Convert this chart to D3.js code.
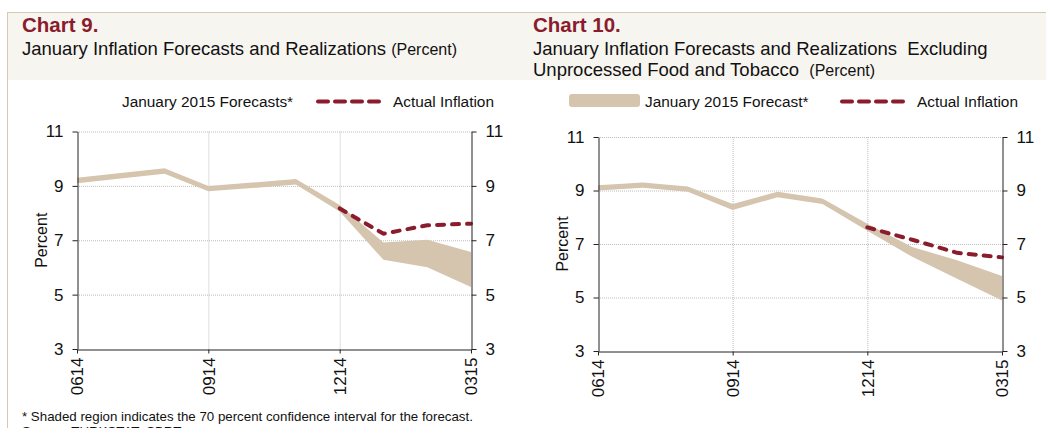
<!DOCTYPE html>
<html>
<head>
<meta charset="utf-8">
<script src="https://cdn.jsdelivr.net/npm/d3@7"></script>
<style>
    body { margin: 0; background: #fff; }
    svg { display: block; font-family: "Liberation Sans", Arial, sans-serif; }
    text { white-space: pre; }
</style>
</head>
<body>
<div id="chart"></div>
<script>
// Months on the x axis (mmyy)
const months = ['0614', '0714', '0814', '0914', '1014', '1114', '1214', '0115', '0215', '0315'];
const monthTicks = ['0614', '0914', '1214', '0315'];
const yTicks = [3, 5, 7, 9, 11];

// Chart 9: headline CPI, 70% band of January 2015 forecast
const lower9 = [9.1, 9.27, 9.45, 8.8, 8.92, 9.05, 8.06, 6.28, 6.01, 5.28];
const upper9 = [9.3, 9.47, 9.65, 9.0, 9.12, 9.25, 8.3, 6.92, 7.02, 6.57];
const actual9 = [null, null, null, null, null, null, 8.17, 7.24, 7.55, 7.61];

// Chart 10: excluding unprocessed food and tobacco
const lower10 = [9.0, 9.1, 8.95, 8.27, 8.75, 8.5, 7.5, 6.52, 5.7, 4.89];
const upper10 = [9.2, 9.3, 9.15, 8.5, 8.95, 8.7, 7.76, 6.89, 6.39, 5.8];
const actual10 = [null, null, null, null, null, null, 7.62, 7.16, 6.67, 6.5];

const bandColor = '#d5c5ae';
const lineColor = '#8b1c2d';
const titleColor = '#8b1c2d';

const svg = d3.select('#chart')
    .append('svg')
    .attr('width', 1046)
    .attr('height', 428);

// Header strip and frame lines
svg.append('rect')
    .attr('x', 8).attr('y', 13)
    .attr('width', 1038).attr('height', 67)
    .attr('fill', '#f7f5f0');
svg.append('line')
    .attr('x1', 7).attr('x2', 1046).attr('y1', 12.5).attr('y2', 12.5)
    .attr('stroke', '#d8c8b0');
svg.append('line')
    .attr('x1', 7.5).attr('x2', 7.5).attr('y1', 12).attr('y2', 428)
    .attr('stroke', '#d8c8b0');

function drawPanel(cfg) {
    const g = svg.append('g');

    // Titles
    g.append('text')
        .attr('x', cfg.titleX).attr('y', 32)
        .attr('fill', titleColor)
        .style('font-weight', 'bold')
        .style('font-size', '20.5px')
        .text(cfg.chartName);

    cfg.titleLines.forEach((line, i) => {
        const t = g.append('text')
            .attr('x', cfg.titleX).attr('y', 55 + i * 20.5)
            .attr('fill', '#111')
            .style('font-size', '18.5px');
        t.append('tspan').text(line.main);
        if (line.unit) {
            t.append('tspan').style('font-size', '16px').text(line.unit);
        }
    });

    const x = d3.scalePoint()
        .domain(months)
        .range([cfg.left, cfg.right]);

    const y = d3.scaleLinear()
        .domain([3, 11])
        .range([cfg.bottom, cfg.top]);

    // Dotted grid
    g.append('g')
        .selectAll('line')
        .data(yTicks.filter(d => d !== 3))
        .join('line')
        .attr('x1', cfg.left).attr('x2', cfg.right)
        .attr('y1', d => y(d) + 0.5).attr('y2', d => y(d) + 0.5)
        .attr('stroke', '#bdbdbd')
        .attr('stroke-dasharray', '1,1');

    g.append('g')
        .selectAll('line')
        .data(['0914', '1214'])
        .join('line')
        .attr('x1', d => x(d) + 0.5).attr('x2', d => x(d) + 0.5)
        .attr('y1', cfg.top).attr('y2', cfg.bottom)
        .attr('stroke', '#bdbdbd')
        .attr('stroke-dasharray', '1,1');

    // Forecast band
    const area = d3.area()
        .x((d, i) => x(months[i]))
        .y0(d => y(d[0]))
        .y1(d => y(d[1]));

    g.append('path')
        .datum(cfg.lower.map((d, i) => [d, cfg.upper[i]]))
        .attr('fill', bandColor)
        .attr('d', area);

    // Actual inflation
    const line = d3.line()
        .defined(d => d !== null)
        .x((d, i) => x(months[i]))
        .y(d => y(d));

    g.append('path')
        .datum(cfg.actual)
        .attr('fill', 'none')
        .attr('stroke', lineColor)
        .attr('stroke-width', 4)
        .attr('stroke-linecap', 'round')
        .attr('stroke-dasharray', '7,8')
        .attr('d', line);

    // Axes
    const styleAxis = sel => {
        sel.selectAll('path, line').attr('stroke', '#222');
        sel.selectAll('text')
            .attr('fill', '#111')
            .style('font-size', '17px')
            .style('font-family', '"Liberation Sans", Arial, sans-serif');
    };

    g.append('g')
        .attr('transform', `translate(${cfg.left + 0.5},0)`)
        .call(d3.axisLeft(y).tickValues(yTicks).tickSize(5).tickSizeOuter(0).tickPadding(9))
        .call(styleAxis);

    g.append('g')
        .attr('transform', `translate(${cfg.right + 0.5},0)`)
        .call(d3.axisRight(y).tickValues(yTicks).tickSize(5).tickSizeOuter(0).tickPadding(9))
        .call(styleAxis);

    g.append('g')
        .attr('transform', `translate(0,${cfg.bottom + 0.5})`)
        .call(d3.axisBottom(x).tickValues(monthTicks).tickSize(4).tickSizeOuter(0))
        .call(styleAxis)
        .selectAll('text')
        .attr('transform', 'rotate(-90)')
        .attr('x', -8)
        .attr('y', 0)
        .attr('dy', '0.35em')
        .style('text-anchor', 'end');

    g.append('text')
        .attr('transform', `translate(${cfg.left - 35.5},${(cfg.top + cfg.bottom) / 2}) rotate(-90)`)
        .attr('dy', '0.35em')
        .attr('text-anchor', 'middle')
        .attr('fill', '#111')
        .style('font-size', '16px')
        .text('Percent');

    // Legend
    const lg = g.append('g').style('font-size', '15.4px');
    if (cfg.swatch) {
        lg.append('rect')
            .attr('x', cfg.legend.swatchX).attr('y', 94)
            .attr('width', 71).attr('height', 13)
            .attr('rx', 3)
            .attr('fill', bandColor);
    }
    lg.append('text')
        .attr('x', cfg.legend.bandTextX).attr('y', 107)
        .attr('fill', '#111')
        .text(cfg.legend.bandLabel);
    lg.append('line')
        .attr('x1', cfg.legend.dashX + 2).attr('x2', cfg.legend.dashX + 66)
        .attr('y1', 101.5).attr('y2', 101.5)
        .attr('stroke', lineColor)
        .attr('stroke-width', 4)
        .attr('stroke-linecap', 'round')
        .attr('stroke-dasharray', '10,7');
    lg.append('text')
        .attr('x', cfg.legend.dashX + 77).attr('y', 107)
        .attr('fill', '#111')
        .text('Actual Inflation');
}

drawPanel({
    chartName: 'Chart 9.',
    titleX: 22,
    titleLines: [{ main: 'January Inflation Forecasts and Realizations ', unit: '(Percent)' }],
    left: 77, right: 471, top: 131.5, bottom: 349,
    lower: lower9, upper: upper9, actual: actual9,
    swatch: false,
    legend: { bandTextX: 122, bandLabel: 'January 2015 Forecasts*', dashX: 316 }
});

drawPanel({
    chartName: 'Chart 10.',
    titleX: 533,
    titleLines: [
        { main: 'January Inflation Forecasts and Realizations  Excluding' },
        { main: 'Unprocessed Food and Tobacco  ', unit: '(Percent)' }
    ],
    left: 598, right: 1002, top: 137, bottom: 351,
    lower: lower10, upper: upper10, actual: actual10,
    swatch: true,
    legend: { swatchX: 569, bandTextX: 645, bandLabel: 'January 2015 Forecast*', dashX: 840 }
});

// Footnote
svg.append('text')
    .attr('x', 22).attr('y', 421)
    .attr('fill', '#111')
    .style('font-size', '13.3px')
    .text('* Shaded region indicates the 70 percent confidence interval for the forecast.');
svg.append('text')
    .attr('x', 22).attr('y', 436)
    .attr('fill', '#111')
    .style('font-size', '13.3px')
    .text('Source: TURKSTAT, CBRT.');
</script>
</body>
</html>
